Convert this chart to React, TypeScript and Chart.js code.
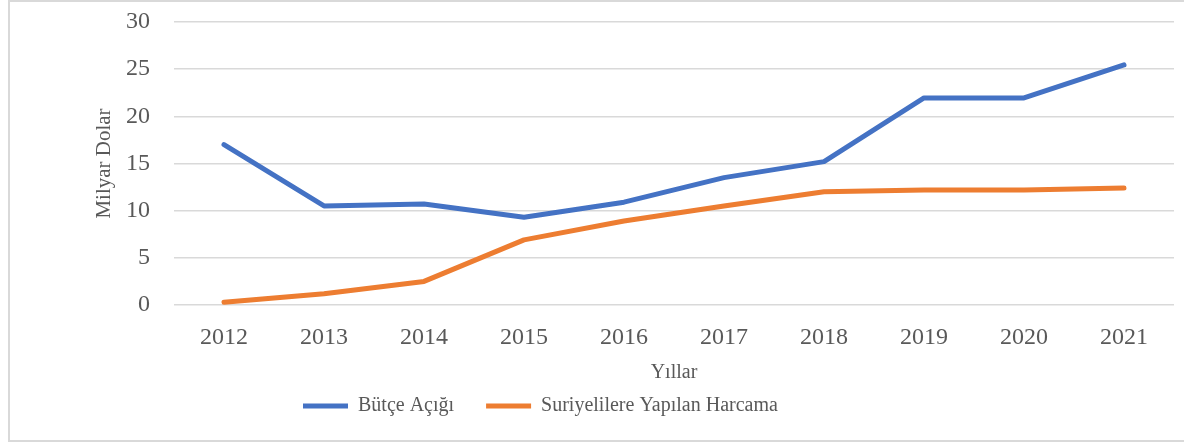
import React, { useEffect, useRef } from "react";
import { Chart, registerables } from "chart.js";

Chart.register(...registerables);

const years = ["2012", "2013", "2014", "2015", "2016", "2017", "2018", "2019", "2020", "2021"];
const butceAcigi = [17.0, 10.5, 10.7, 9.3, 10.9, 13.5, 15.2, 21.95, 21.95, 25.45];
const suriyeliHarcama = [0.3, 1.2, 2.5, 6.9, 8.9, 10.5, 12.0, 12.2, 12.2, 12.4];
const seriesNames = ["Bütçe Açığı", "Suriyelilere Yapılan Harcama"];
const yTitle = "Milyar Dolar";
const xTitle = "Yıllar";

const FONT = "'Liberation Serif', 'Times New Roman', serif";
const TEXT = "#595959";
const LEGEND_PAD = 32;

const legendPlace = {
  id: "legendPlace",
  afterLayout(chart: any) {
    const lg = chart.legend;
    if (!lg) return;
    const w = lg.right - lg.left;
    const h = lg.bottom - lg.top;
    lg.left = 293 - LEGEND_PAD;
    lg.right = lg.left + w;
    lg.top = 362;
    lg.bottom = lg.top + h;
  },
};

export default function App() {
  const ref = useRef<HTMLCanvasElement | null>(null);
  useEffect(() => {
    if (!ref.current) return;
    const chart = new Chart(ref.current, {
      type: "line",
      data: {
        labels: years,
        datasets: [
          {
            label: seriesNames[0],
            data: butceAcigi,
            borderColor: "#4472C4",
            backgroundColor: "#4472C4",
            borderWidth: 5,
            pointRadius: 0,
            borderCapStyle: "round",
            borderJoinStyle: "round",
            tension: 0,
          },
          {
            label: seriesNames[1],
            data: suriyeliHarcama,
            borderColor: "#ED7D31",
            backgroundColor: "#ED7D31",
            borderWidth: 5,
            pointRadius: 0,
            borderCapStyle: "round",
            borderJoinStyle: "round",
            tension: 0,
          },
        ],
      },
      plugins: [legendPlace],
      options: {
        animation: false,
        responsive: false,
        maintainAspectRatio: false,
        layout: { padding: { left: 0, top: 20, right: 10, bottom: 0 } },
        plugins: {
          tooltip: { enabled: false },
          legend: {
            position: "bottom",
            align: "start",
            maxHeight: 55,
            labels: {
              font: { family: FONT, size: 20 },
              color: TEXT,
              boxWidth: 45,
              boxHeight: 5,
              padding: LEGEND_PAD,
              generateLabels: (c: any) =>
                (Chart.defaults.plugins.legend.labels as any)
                  .generateLabels(c)
                  .map((l: any) => ({ ...l, lineWidth: 0, fillStyle: l.strokeStyle })),
            },
          },
        },
        scales: {
          x: {
            offset: true,
            grid: { display: false, drawTicks: false },
            border: { display: false },
            ticks: {
              font: { family: FONT, size: 24 },
              color: TEXT,
              padding: 18,
              maxRotation: 0,
              autoSkip: false,
            },
            title: {
              display: true,
              text: xTitle,
              font: { family: FONT, size: 20 },
              color: TEXT,
              padding: 0,
            },
            afterFit: (s: any) => {
              s.height = 80;
            },
          },
          y: {
            min: 0,
            max: 30,
            ticks: {
              stepSize: 5,
              font: { family: FONT, size: 24 },
              color: TEXT,
              padding: 0,
            },
            grid: {
              color: "#d9d9d9",
              lineWidth: 1.5,
              drawTicks: true,
              tickLength: 24,
              tickColor: "rgba(0,0,0,0)",
            },
            border: { display: false },
            title: {
              display: true,
              text: yTitle,
              font: { family: FONT, size: 21 },
              color: TEXT,
              padding: { top: 82, bottom: 0 },
            },
            afterFit: (s: any) => {
              s.width = 164;
            },
          },
        },
      },
    });
    return () => chart.destroy();
  }, []);
  return (
    <div
      style={{
        position: "absolute",
        left: 8,
        top: 0,
        width: 1176,
        height: 442,
        boxSizing: "border-box",
        borderLeft: "2px solid #d9d9d9",
        borderTop: "2px solid #d9d9d9",
        borderBottom: "2px solid #d9d9d9",
        background: "#fff",
      }}
    >
      <canvas ref={ref} width={1174} height={438} style={{ display: "block" }} />
    </div>
  );
}
